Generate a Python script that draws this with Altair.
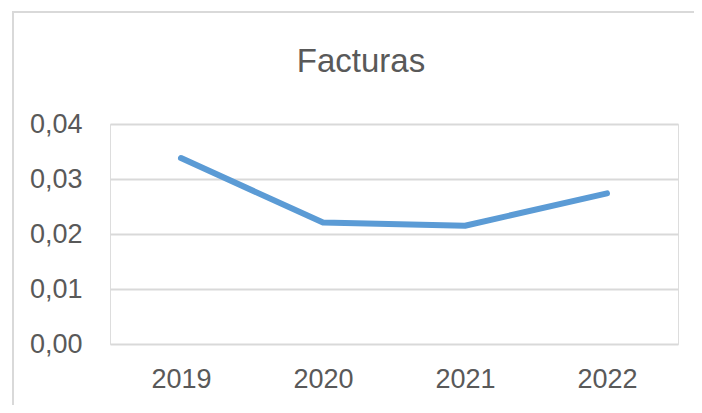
import altair as alt
import pandas as pd

years = ["2019", "2020", "2021", "2022"]
values = [0.0338, 0.0221, 0.0215, 0.0274]
y_ticks = [0.0, 0.01, 0.02, 0.03, 0.04]
title_text = "Facturas"

df = pd.DataFrame({"year": years, "value": values})

FONT = "Liberation Sans"
GRAY = "#595959"

frame = alt.Chart(alt.Data(values=[{}])).mark_rect(
    fillOpacity=0, stroke="#D9D9D9", strokeWidth=2
).encode(
    x=alt.value(-97), x2=alt.value(620),
    y=alt.value(-112), y2=alt.value(320),
)

title = alt.Chart(alt.Data(values=[{"t": title_text}])).mark_text(
    font=FONT, fontSize=33, color=GRAY, align="center", baseline="alphabetic"
).encode(
    text="t:N", x=alt.value(251), y=alt.value(-52),
)

line = alt.Chart(df).mark_line(
    color="#5B9BD5", strokeWidth=6, strokeCap="round", strokeJoin="round"
).encode(
    x=alt.X("year:O", sort=years,
            scale=alt.Scale(type="point", padding=0.5),
            axis=alt.Axis(title=None, labelAngle=0, ticks=False, domain=False,
                          grid=False, labelFont=FONT, labelFontSize=27,
                          labelColor=GRAY, labelPadding=22)),
    y=alt.Y("value:Q",
            scale=alt.Scale(domain=[0, 0.04], nice=False, zero=True),
            axis=alt.Axis(title=None, values=y_ticks, ticks=False, domain=False,
                          grid=True, gridColor="#D9D9D9", gridWidth=2,
                          labelFont=FONT, labelFontSize=27, labelColor=GRAY,
                          labelPadding=28,
                          labelExpr="replace(format(datum.value, '.2f'), '.', ',')")),
)

chart = alt.layer(frame, title, line).properties(
    width=568,
    height=220,
    autosize=alt.AutoSizeParams(type="none"),
    padding={"left": 102, "top": 116, "right": 16, "bottom": 61},
).configure_view(stroke=None).configure(background="white")

chart.save("out.html", embed_options={"renderer": "svg", "actions": False})
